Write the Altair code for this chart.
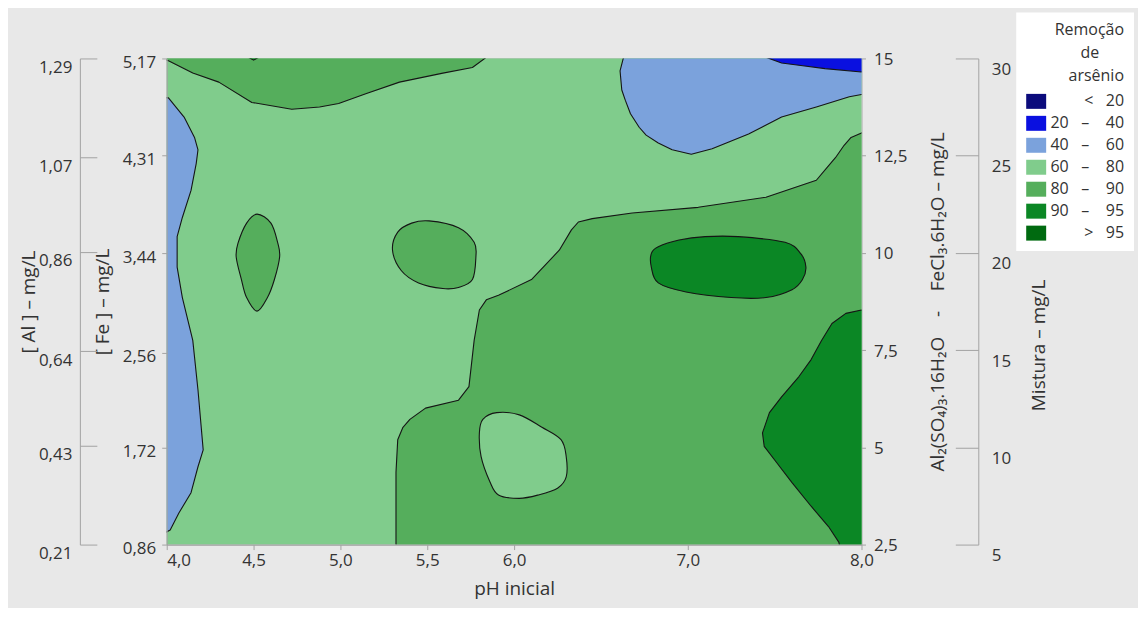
import altair as alt
import pandas as pd

NB = "\u00a0"
ZW = "\u200b"
FONT = "Open Sans"
TXT = "#333333"
AXC = "#a3a3a3"

# ---- classes of arsenic removal (legend) ----
class_labels = ["< 20", "20 – 40", "40 – 60", "60 – 80", "80 – 90", "90 – 95", "> 95"]
class_colors = ["#0b0b7c", "#0a10e0", "#7ba2dc", "#80cc8c", "#55ae5c", "#0b8725", "#006a10"]

# ---- axis tick values ----
ph_ticks = [4.0, 4.5, 5.0, 5.5, 6.0, 7.0, 8.0]
fe_ticks = [0.86, 1.72, 2.56, 3.44, 4.31, 5.17]
al_ticks = [0.21, 0.43, 0.64, 0.86, 1.07, 1.29]
salt_ticks = [2.5, 5, 7.5, 10, 12.5, 15]
mix_ticks = [5, 10, 15, 20, 25, 30]

# ---- contour regions (pH, [Fe] mg/L) ----
base_ph = [3.9, 8.1, 8.1, 3.9]
base_fe = [0.70, 0.70, 5.30, 5.30]

mid_lower_ph = [5.32, 5.32, 5.32, 5.33, 5.36, 5.40, 5.49, 5.68, 5.74, 5.77, 5.80, 5.84, 5.91, 6.10,
                6.26, 6.33, 6.37, 6.45, 6.68, 7.06, 7.45, 7.74, 7.80, 7.85, 7.90, 7.94, 8.00, 8.10, 8.10]
mid_lower_fe = [0.70, 1.26, 1.50, 1.79, 1.90, 1.97, 2.07, 2.14, 2.26, 2.67, 2.94, 3.03, 3.07, 3.21,
                3.47, 3.65, 3.72, 3.75, 3.80, 3.85, 3.94, 4.09, 4.20, 4.29, 4.40, 4.47, 4.51, 4.53, 0.70]

mid_top_ph = [3.90, 4.01, 4.15, 4.30, 4.49, 4.72, 4.88, 4.99, 5.15, 5.34, 5.59, 5.76, 5.84, 5.90, 3.90]
mid_top_fe = [5.20, 5.15, 5.04, 4.96, 4.78, 4.72, 4.74, 4.77, 4.86, 4.96, 5.04, 5.09, 5.18, 5.30, 5.30]

blue_left_ph = [3.90, 4.01, 4.10, 4.16, 4.18, 4.17, 4.14, 4.09, 4.06, 4.06, 4.09, 4.15, 4.18, 4.21,
                4.18, 4.14, 4.07, 4.02, 3.95, 3.90]
blue_left_fe = [4.84, 4.82, 4.65, 4.47, 4.36, 4.24, 4.00, 3.76, 3.59, 3.32, 3.05, 2.67, 2.23, 1.70,
                1.55, 1.32, 1.14, 0.99, 0.93, 0.93]

lightblue_tr_ph = [6.63, 6.63, 6.61, 6.62, 6.64, 6.67, 6.72, 6.76, 6.83, 6.91, 7.02, 7.14, 7.35, 7.54,
                   7.74, 7.93, 8.00, 8.10, 8.10]
lightblue_tr_fe = [5.30, 5.18, 5.06, 4.89, 4.80, 4.68, 4.56, 4.49, 4.42, 4.36, 4.32, 4.37, 4.50, 4.65,
                   4.74, 4.83, 4.85, 4.86, 5.30]

blue_tr_ph = [7.45, 7.45, 7.54, 7.64, 7.79, 8.00, 8.10, 8.10]
blue_tr_fe = [5.30, 5.18, 5.13, 5.11, 5.08, 5.05, 5.05, 5.30]

dark_right_ph = [8.10, 8.00, 7.91, 7.83, 7.77, 7.71, 7.64, 7.54, 7.47, 7.43, 7.44, 7.51, 7.60, 7.71,
                 7.81, 7.87, 7.89, 8.10]
dark_right_fe = [2.95, 2.94, 2.91, 2.82, 2.67, 2.50, 2.35, 2.17, 2.03, 1.85, 1.73, 1.59, 1.41, 1.20,
                 1.02, 0.88, 0.70, 0.70]

blob45_ph = [4.52, 4.60, 4.64, 4.65, 4.62, 4.58, 4.52, 4.46, 4.43, 4.40, 4.41, 4.46]
blob45_fe = [3.79, 3.71, 3.53, 3.41, 3.21, 3.05, 2.93, 3.05, 3.21, 3.41, 3.53, 3.71]

blob55_ph = [5.30, 5.33, 5.41, 5.51, 5.68, 5.77, 5.78, 5.76, 5.68, 5.59, 5.45, 5.35]
blob55_fe = [3.47, 3.63, 3.71, 3.73, 3.67, 3.54, 3.41, 3.21, 3.14, 3.13, 3.18, 3.29]

dark_blob_ph = [6.83, 6.95, 7.10, 7.29, 7.56, 7.65, 7.68, 7.66, 7.60, 7.45, 7.25, 6.99, 6.83, 6.79, 6.79]
dark_blob_fe = [3.50, 3.56, 3.59, 3.59, 3.54, 3.44, 3.32, 3.21, 3.12, 3.05, 3.05, 3.10, 3.18, 3.32, 3.44]

light_blob_ph = [5.90, 6.03, 6.16, 6.27, 6.30, 6.30, 6.25, 6.14, 6.03, 5.91, 5.86, 5.81, 5.80, 5.82]
light_blob_fe = [2.03, 2.01, 1.90, 1.79, 1.64, 1.46, 1.36, 1.30, 1.27, 1.30, 1.42, 1.64, 1.85, 1.97]

tiny_top_ph = [4.47, 4.47, 4.50, 4.53, 4.53]
tiny_top_fe = [5.30, 5.18, 5.155, 5.18, 5.30]

regions = [
    ("base", "60 – 80", "linear-closed", base_ph, base_fe),
    ("mid_lower", "80 – 90", "linear-closed", mid_lower_ph, mid_lower_fe),
    ("mid_top", "80 – 90", "linear-closed", mid_top_ph, mid_top_fe),
    ("blue_left", "40 – 60", "linear-closed", blue_left_ph, blue_left_fe),
    ("lightblue_tr", "40 – 60", "linear-closed", lightblue_tr_ph, lightblue_tr_fe),
    ("blue_tr", "20 – 40", "linear-closed", blue_tr_ph, blue_tr_fe),
    ("dark_right", "90 – 95", "linear-closed", dark_right_ph, dark_right_fe),
    ("blob45", "80 – 90", "cardinal-closed", blob45_ph, blob45_fe),
    ("blob55", "80 – 90", "cardinal-closed", blob55_ph, blob55_fe),
    ("dark_blob", "90 – 95", "cardinal-closed", dark_blob_ph, dark_blob_fe),
    ("light_blob", "60 – 80", "cardinal-closed", light_blob_ph, light_blob_fe),
    ("tiny_top", "90 – 95", "linear-closed", tiny_top_ph, tiny_top_fe),
]


def show(lbl):
    if lbl[0] in "<>":
        return lbl[0] + NB * 3 + lbl[2:]
    a, b = lbl.split(" – ")
    return a + NB * 3 + "–" + NB * 4 + b


class_display = [show(c) for c in class_labels]
disp = dict(zip(class_labels, class_display))

rows = []
for name, cls, interp, xs, ys in regions:
    for i, (x, y) in enumerate(zip(xs, ys)):
        rows.append({"poly": name, "cls": disp[cls], "i": i, "pH": x, "Fe": y})
df = pd.DataFrame(rows)

fill_scale = alt.Scale(domain=class_display, range=class_colors)
x_scale = alt.Scale(domain=[4, 8], nice=False, zero=False)
fe_scale = alt.Scale(domain=[0.86, 5.17], nice=False, zero=False)

legend = alt.Legend(
    title=["Remoção", "de" + NB * 6 + ZW, "arsênio"],
    orient="none", legendX=851, legendY=-46,
    fillColor="white", padding=10,
    symbolType="M-1,-0.75H1V0.75H-1Z", symbolSize=400, symbolStrokeWidth=0,
    labelAlign="right", labelOffset=78, labelFontSize=16, labelFont=FONT, labelColor=TXT,
    titleFont=FONT, titleFontSize=16, titleFontWeight="normal", titleColor=TXT,
    titleAnchor="end", titleAlign="right", titleLineHeight=23, titlePadding=7, rowPadding=4,
)

x_axis = alt.Axis(
    values=ph_ticks, title="pH inicial", labelExpr="replace(format(datum.value, '.1f'), '.', ',')",
    tickSize=5, labelPadding=3, titlePadding=11, labelFlush=False, labelOverlap=False,
    labelAlign={"condition": {"test": "datum.value <= 4", "value": "left"}, "value": "center"},
    zindex=1,
)
fe_axis = alt.Axis(
    orient="left", values=fe_ticks, title="[ Fe ] – mg/L",
    labelExpr="replace(format(datum.value, '.2f'), '.', ',')",
    tickSize=5, labelPadding=6, labelOffset=4, titlePadding=10, labelOverlap=False, zindex=1,
)

layers = []
for k, (name, cls, interp, xs, ys) in enumerate(regions):
    first = k == 0
    layers.append(
        alt.Chart(df)
        .transform_filter(alt.datum.poly == name)
        .mark_line(interpolate=interp, clip=True, stroke="#151515", strokeWidth=1.1, strokeJoin="round")
        .encode(
            x=alt.X("pH:Q", scale=x_scale, axis=x_axis),
            y=alt.Y("Fe:Q", scale=fe_scale, axis=fe_axis if first else None),
            fill=alt.Fill("cls:N", scale=fill_scale, legend=legend),
            order=alt.Order("i:Q"),
        )
    )


def axis_layer(vals, dom, axis):
    return alt.Chart(pd.DataFrame({"v": vals})).mark_point(opacity=0).encode(
        y=alt.Y("v:Q", scale=alt.Scale(domain=dom, nice=False, zero=False), axis=axis)
    )


axis_layers = [
    axis_layer(al_ticks, [0.21, 1.29], alt.Axis(
        orient="left", offset=70, values=al_ticks, tickSize=17, domain=False, labelPadding=8,
        labelOffset=9, labelExpr="replace(format(datum.value, '.2f'), '.', ',')",
        title="[ Al ] – mg/L", titlePadding=0, labelOverlap=False, zindex=1)),
    axis_layer(al_ticks, [0.21, 1.29], alt.Axis(
        orient="left", offset=87, ticks=False, labels=False, domain=True, title=None, zindex=1)),
    axis_layer(salt_ticks, [2.5, 15], alt.Axis(
        orient="right", offset=0, values=salt_ticks, tickSize=4, labelPadding=8, labelOffset=1,
        domain=False, labelExpr="replace(format(datum.value, '~g'), '.', ',')",
        title="Al₂(SO₄)₃.16H₂O" + NB * 4 + "-" + NB * 4 + "FeCl₃.6H₂O – mg/L",
        titleAngle=270, titleBaseline="top", titlePadding=22, labelOverlap=False, zindex=1)),
    axis_layer(mix_ticks, [5, 30], alt.Axis(
        orient="right", offset=94, values=mix_ticks, tickSize=23, labelPadding=13, labelOffset=11,
        domain=False, labelExpr="format(datum.value, 'd')", title="Mistura – mg/L",
        titleAngle=270, titleBaseline="top", titlePadding=19, titleY=287, labelOverlap=False, zindex=1)),
    axis_layer(mix_ticks, [5, 30], alt.Axis(
        orient="right", offset=117, ticks=False, labels=False, domain=True, title=None, zindex=1)),
]

chart = (
    alt.layer(*layers, *axis_layers)
    .resolve_scale(y="independent")
    .properties(
        width=696, height=487,
        autosize=alt.AutoSizeParams(type="none"),
        padding={"left": 159, "top": 50, "right": 277, "bottom": 63},
        background="#e8e8e8",
    )
    .configure_view(stroke="#a9a9a9", strokeWidth=1)
    .configure_axis(
        labelFont=FONT, titleFont=FONT, labelFontSize=17, titleFontSize=19,
        titleFontWeight="normal", labelColor=TXT, titleColor=TXT,
        domainColor=AXC, tickColor=AXC, grid=False,
    )
)

chart.save("out.html", embed_options={"renderer": "svg", "actions": False})
